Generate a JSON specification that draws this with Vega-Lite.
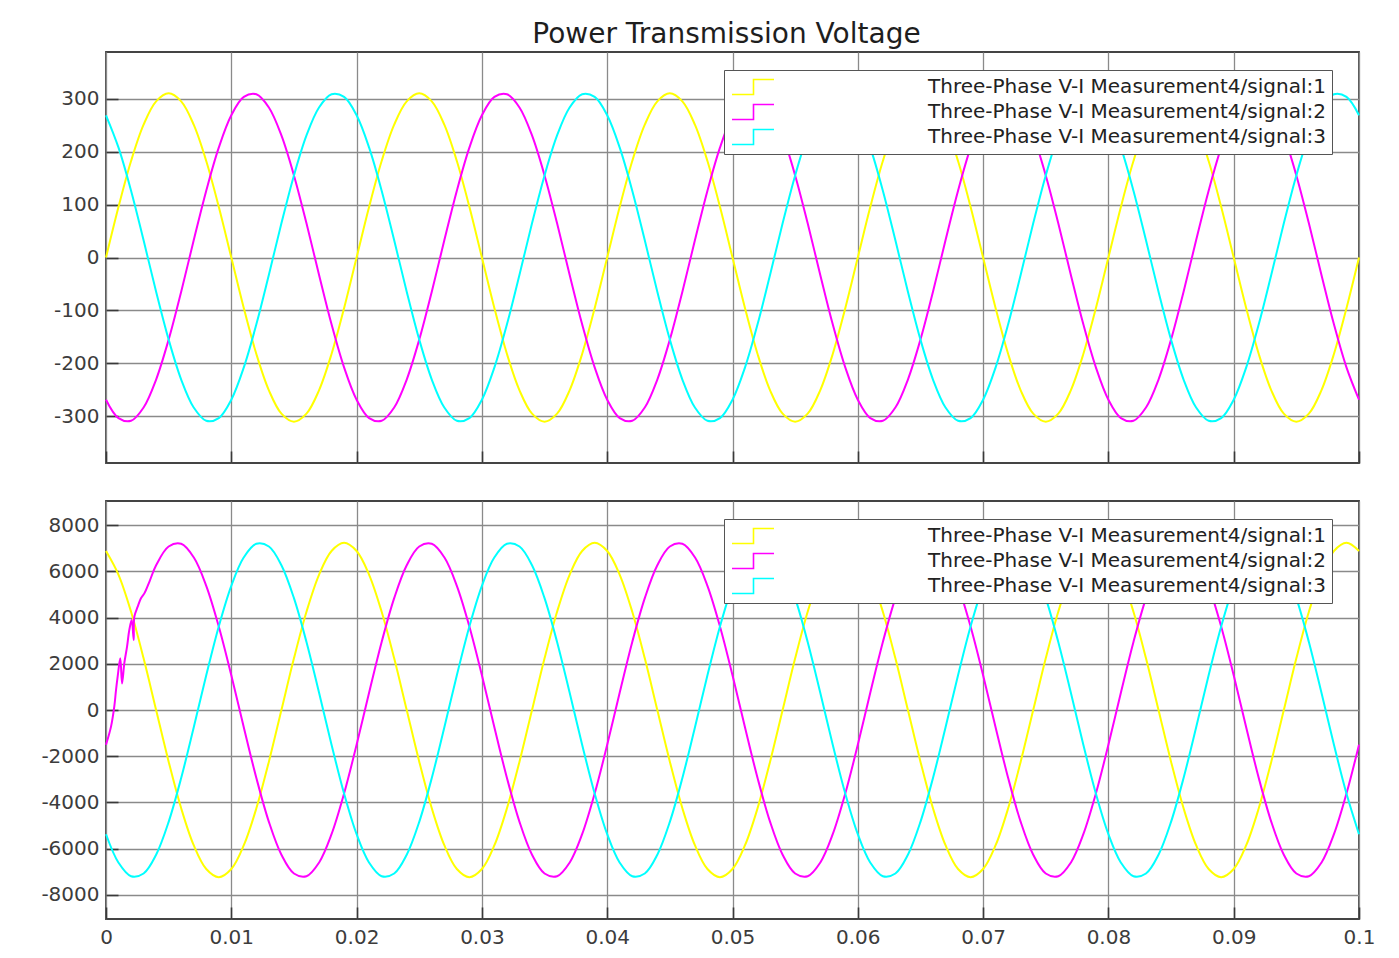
{
  "$schema": "https://vega.github.io/schema/vega-lite/v6.json",
  "background": "white",
  "padding": {"left": 35, "top": 21, "right": 5, "bottom": 0},
  "title": {"text": "Power Transmission Voltage", "anchor": "middle", "font": "DejaVu Sans", "fontSize": 28, "fontWeight": "normal", "color": "#1e1e1e", "offset": 2, "dx": 21},
  "spacing": 35,
  "resolve": {"legend": {"color": "independent"}, "scale": {"color": "independent"}},
  "config": {
    "view": {"stroke": "#444444", "strokeWidth": 1.8},
    "axis": {"domain": false, "grid": true, "gridColor": "#8a8a8a", "gridWidth": 1.3, "ticks": true, "tickSize": -12, "tickColor": "#3a3a3a", "tickWidth": 1.6, "labelFont": "DejaVu Sans", "labelFontSize": 20, "labelColor": "#3c3c3c", "labelFlush": false},
    "axisY": {"labelPadding": 19, "minExtent": 70, "maxExtent": 70},
    "axisX": {"labelPadding": 20},
    "legend": {"orient": "none", "legendX": 618, "legendY": 18, "direction": "vertical", "padding": 6, "strokeColor": "#555555", "fillColor": "white", "labelFont": "DejaVu Sans", "labelFontSize": 20, "labelColor": "#222222", "labelLimit": 800, "labelOffset": 176, "symbolType": "M-0.9,0.75H1.25V-0.75H3.3", "symbolSize": 400, "symbolStrokeWidth": 1.6, "symbolFillColor": "transparent", "rowPadding": 3}
  },
  "datasets": {
    "top": [
{"t":0,"s":1,"v":0},{"t":0,"s":2,"v":-268.5},{"t":0,"s":3,"v":268.5},
{"t":0.001,"s":1,"v":95.8},{"t":0.001,"s":2,"v":-303.2},{"t":0.001,"s":3,"v":207.4},
{"t":0.002,"s":1,"v":182.2},{"t":0.002,"s":2,"v":-308.3},{"t":0.002,"s":3,"v":126.1},
{"t":0.003,"s":1,"v":250.8},{"t":0.003,"s":2,"v":-283.2},{"t":0.003,"s":3,"v":32.4},
{"t":0.004,"s":1,"v":294.8},{"t":0.004,"s":2,"v":-230.4},{"t":0.004,"s":3,"v":-64.5},
{"t":0.005,"s":1,"v":310},{"t":0.005,"s":2,"v":-155},{"t":0.005,"s":3,"v":-155},
{"t":0.006,"s":1,"v":294.8},{"t":0.006,"s":2,"v":-64.5},{"t":0.006,"s":3,"v":-230.4},
{"t":0.007,"s":1,"v":250.8},{"t":0.007,"s":2,"v":32.4},{"t":0.007,"s":3,"v":-283.2},
{"t":0.008,"s":1,"v":182.2},{"t":0.008,"s":2,"v":126.1},{"t":0.008,"s":3,"v":-308.3},
{"t":0.009,"s":1,"v":95.8},{"t":0.009,"s":2,"v":207.4},{"t":0.009,"s":3,"v":-303.2},
{"t":0.01,"s":1,"v":0},{"t":0.01,"s":2,"v":268.5},{"t":0.01,"s":3,"v":-268.5},
{"t":0.011,"s":1,"v":-95.8},{"t":0.011,"s":2,"v":303.2},{"t":0.011,"s":3,"v":-207.4},
{"t":0.012,"s":1,"v":-182.2},{"t":0.012,"s":2,"v":308.3},{"t":0.012,"s":3,"v":-126.1},
{"t":0.013,"s":1,"v":-250.8},{"t":0.013,"s":2,"v":283.2},{"t":0.013,"s":3,"v":-32.4},
{"t":0.014,"s":1,"v":-294.8},{"t":0.014,"s":2,"v":230.4},{"t":0.014,"s":3,"v":64.5},
{"t":0.015,"s":1,"v":-310},{"t":0.015,"s":2,"v":155},{"t":0.015,"s":3,"v":155},
{"t":0.016,"s":1,"v":-294.8},{"t":0.016,"s":2,"v":64.5},{"t":0.016,"s":3,"v":230.4},
{"t":0.017,"s":1,"v":-250.8},{"t":0.017,"s":2,"v":-32.4},{"t":0.017,"s":3,"v":283.2},
{"t":0.018,"s":1,"v":-182.2},{"t":0.018,"s":2,"v":-126.1},{"t":0.018,"s":3,"v":308.3},
{"t":0.019,"s":1,"v":-95.8},{"t":0.019,"s":2,"v":-207.4},{"t":0.019,"s":3,"v":303.2},
{"t":0.02,"s":1,"v":0},{"t":0.02,"s":2,"v":-268.5},{"t":0.02,"s":3,"v":268.5},
{"t":0.021,"s":1,"v":95.8},{"t":0.021,"s":2,"v":-303.2},{"t":0.021,"s":3,"v":207.4},
{"t":0.022,"s":1,"v":182.2},{"t":0.022,"s":2,"v":-308.3},{"t":0.022,"s":3,"v":126.1},
{"t":0.023,"s":1,"v":250.8},{"t":0.023,"s":2,"v":-283.2},{"t":0.023,"s":3,"v":32.4},
{"t":0.024,"s":1,"v":294.8},{"t":0.024,"s":2,"v":-230.4},{"t":0.024,"s":3,"v":-64.5},
{"t":0.025,"s":1,"v":310},{"t":0.025,"s":2,"v":-155},{"t":0.025,"s":3,"v":-155},
{"t":0.026,"s":1,"v":294.8},{"t":0.026,"s":2,"v":-64.5},{"t":0.026,"s":3,"v":-230.4},
{"t":0.027,"s":1,"v":250.8},{"t":0.027,"s":2,"v":32.4},{"t":0.027,"s":3,"v":-283.2},
{"t":0.028,"s":1,"v":182.2},{"t":0.028,"s":2,"v":126.1},{"t":0.028,"s":3,"v":-308.3},
{"t":0.029,"s":1,"v":95.8},{"t":0.029,"s":2,"v":207.4},{"t":0.029,"s":3,"v":-303.2},
{"t":0.03,"s":1,"v":0},{"t":0.03,"s":2,"v":268.5},{"t":0.03,"s":3,"v":-268.5},
{"t":0.031,"s":1,"v":-95.8},{"t":0.031,"s":2,"v":303.2},{"t":0.031,"s":3,"v":-207.4},
{"t":0.032,"s":1,"v":-182.2},{"t":0.032,"s":2,"v":308.3},{"t":0.032,"s":3,"v":-126.1},
{"t":0.033,"s":1,"v":-250.8},{"t":0.033,"s":2,"v":283.2},{"t":0.033,"s":3,"v":-32.4},
{"t":0.034,"s":1,"v":-294.8},{"t":0.034,"s":2,"v":230.4},{"t":0.034,"s":3,"v":64.5},
{"t":0.035,"s":1,"v":-310},{"t":0.035,"s":2,"v":155},{"t":0.035,"s":3,"v":155},
{"t":0.036,"s":1,"v":-294.8},{"t":0.036,"s":2,"v":64.5},{"t":0.036,"s":3,"v":230.4},
{"t":0.037,"s":1,"v":-250.8},{"t":0.037,"s":2,"v":-32.4},{"t":0.037,"s":3,"v":283.2},
{"t":0.038,"s":1,"v":-182.2},{"t":0.038,"s":2,"v":-126.1},{"t":0.038,"s":3,"v":308.3},
{"t":0.039,"s":1,"v":-95.8},{"t":0.039,"s":2,"v":-207.4},{"t":0.039,"s":3,"v":303.2},
{"t":0.04,"s":1,"v":0},{"t":0.04,"s":2,"v":-268.5},{"t":0.04,"s":3,"v":268.5},
{"t":0.041,"s":1,"v":95.8},{"t":0.041,"s":2,"v":-303.2},{"t":0.041,"s":3,"v":207.4},
{"t":0.042,"s":1,"v":182.2},{"t":0.042,"s":2,"v":-308.3},{"t":0.042,"s":3,"v":126.1},
{"t":0.043,"s":1,"v":250.8},{"t":0.043,"s":2,"v":-283.2},{"t":0.043,"s":3,"v":32.4},
{"t":0.044,"s":1,"v":294.8},{"t":0.044,"s":2,"v":-230.4},{"t":0.044,"s":3,"v":-64.5},
{"t":0.045,"s":1,"v":310},{"t":0.045,"s":2,"v":-155},{"t":0.045,"s":3,"v":-155},
{"t":0.046,"s":1,"v":294.8},{"t":0.046,"s":2,"v":-64.5},{"t":0.046,"s":3,"v":-230.4},
{"t":0.047,"s":1,"v":250.8},{"t":0.047,"s":2,"v":32.4},{"t":0.047,"s":3,"v":-283.2},
{"t":0.048,"s":1,"v":182.2},{"t":0.048,"s":2,"v":126.1},{"t":0.048,"s":3,"v":-308.3},
{"t":0.049,"s":1,"v":95.8},{"t":0.049,"s":2,"v":207.4},{"t":0.049,"s":3,"v":-303.2},
{"t":0.05,"s":1,"v":0},{"t":0.05,"s":2,"v":268.5},{"t":0.05,"s":3,"v":-268.5},
{"t":0.051,"s":1,"v":-95.8},{"t":0.051,"s":2,"v":303.2},{"t":0.051,"s":3,"v":-207.4},
{"t":0.052,"s":1,"v":-182.2},{"t":0.052,"s":2,"v":308.3},{"t":0.052,"s":3,"v":-126.1},
{"t":0.053,"s":1,"v":-250.8},{"t":0.053,"s":2,"v":283.2},{"t":0.053,"s":3,"v":-32.4},
{"t":0.054,"s":1,"v":-294.8},{"t":0.054,"s":2,"v":230.4},{"t":0.054,"s":3,"v":64.5},
{"t":0.055,"s":1,"v":-310},{"t":0.055,"s":2,"v":155},{"t":0.055,"s":3,"v":155},
{"t":0.056,"s":1,"v":-294.8},{"t":0.056,"s":2,"v":64.5},{"t":0.056,"s":3,"v":230.4},
{"t":0.057,"s":1,"v":-250.8},{"t":0.057,"s":2,"v":-32.4},{"t":0.057,"s":3,"v":283.2},
{"t":0.058,"s":1,"v":-182.2},{"t":0.058,"s":2,"v":-126.1},{"t":0.058,"s":3,"v":308.3},
{"t":0.059,"s":1,"v":-95.8},{"t":0.059,"s":2,"v":-207.4},{"t":0.059,"s":3,"v":303.2},
{"t":0.06,"s":1,"v":0},{"t":0.06,"s":2,"v":-268.5},{"t":0.06,"s":3,"v":268.5},
{"t":0.061,"s":1,"v":95.8},{"t":0.061,"s":2,"v":-303.2},{"t":0.061,"s":3,"v":207.4},
{"t":0.062,"s":1,"v":182.2},{"t":0.062,"s":2,"v":-308.3},{"t":0.062,"s":3,"v":126.1},
{"t":0.063,"s":1,"v":250.8},{"t":0.063,"s":2,"v":-283.2},{"t":0.063,"s":3,"v":32.4},
{"t":0.064,"s":1,"v":294.8},{"t":0.064,"s":2,"v":-230.4},{"t":0.064,"s":3,"v":-64.5},
{"t":0.065,"s":1,"v":310},{"t":0.065,"s":2,"v":-155},{"t":0.065,"s":3,"v":-155},
{"t":0.066,"s":1,"v":294.8},{"t":0.066,"s":2,"v":-64.5},{"t":0.066,"s":3,"v":-230.4},
{"t":0.067,"s":1,"v":250.8},{"t":0.067,"s":2,"v":32.4},{"t":0.067,"s":3,"v":-283.2},
{"t":0.068,"s":1,"v":182.2},{"t":0.068,"s":2,"v":126.1},{"t":0.068,"s":3,"v":-308.3},
{"t":0.069,"s":1,"v":95.8},{"t":0.069,"s":2,"v":207.4},{"t":0.069,"s":3,"v":-303.2},
{"t":0.07,"s":1,"v":0},{"t":0.07,"s":2,"v":268.5},{"t":0.07,"s":3,"v":-268.5},
{"t":0.071,"s":1,"v":-95.8},{"t":0.071,"s":2,"v":303.2},{"t":0.071,"s":3,"v":-207.4},
{"t":0.072,"s":1,"v":-182.2},{"t":0.072,"s":2,"v":308.3},{"t":0.072,"s":3,"v":-126.1},
{"t":0.073,"s":1,"v":-250.8},{"t":0.073,"s":2,"v":283.2},{"t":0.073,"s":3,"v":-32.4},
{"t":0.074,"s":1,"v":-294.8},{"t":0.074,"s":2,"v":230.4},{"t":0.074,"s":3,"v":64.5},
{"t":0.075,"s":1,"v":-310},{"t":0.075,"s":2,"v":155},{"t":0.075,"s":3,"v":155},
{"t":0.076,"s":1,"v":-294.8},{"t":0.076,"s":2,"v":64.5},{"t":0.076,"s":3,"v":230.4},
{"t":0.077,"s":1,"v":-250.8},{"t":0.077,"s":2,"v":-32.4},{"t":0.077,"s":3,"v":283.2},
{"t":0.078,"s":1,"v":-182.2},{"t":0.078,"s":2,"v":-126.1},{"t":0.078,"s":3,"v":308.3},
{"t":0.079,"s":1,"v":-95.8},{"t":0.079,"s":2,"v":-207.4},{"t":0.079,"s":3,"v":303.2},
{"t":0.08,"s":1,"v":0},{"t":0.08,"s":2,"v":-268.5},{"t":0.08,"s":3,"v":268.5},
{"t":0.081,"s":1,"v":95.8},{"t":0.081,"s":2,"v":-303.2},{"t":0.081,"s":3,"v":207.4},
{"t":0.082,"s":1,"v":182.2},{"t":0.082,"s":2,"v":-308.3},{"t":0.082,"s":3,"v":126.1},
{"t":0.083,"s":1,"v":250.8},{"t":0.083,"s":2,"v":-283.2},{"t":0.083,"s":3,"v":32.4},
{"t":0.084,"s":1,"v":294.8},{"t":0.084,"s":2,"v":-230.4},{"t":0.084,"s":3,"v":-64.5},
{"t":0.085,"s":1,"v":310},{"t":0.085,"s":2,"v":-155},{"t":0.085,"s":3,"v":-155},
{"t":0.086,"s":1,"v":294.8},{"t":0.086,"s":2,"v":-64.5},{"t":0.086,"s":3,"v":-230.4},
{"t":0.087,"s":1,"v":250.8},{"t":0.087,"s":2,"v":32.4},{"t":0.087,"s":3,"v":-283.2},
{"t":0.088,"s":1,"v":182.2},{"t":0.088,"s":2,"v":126.1},{"t":0.088,"s":3,"v":-308.3},
{"t":0.089,"s":1,"v":95.8},{"t":0.089,"s":2,"v":207.4},{"t":0.089,"s":3,"v":-303.2},
{"t":0.09,"s":1,"v":0},{"t":0.09,"s":2,"v":268.5},{"t":0.09,"s":3,"v":-268.5},
{"t":0.091,"s":1,"v":-95.8},{"t":0.091,"s":2,"v":303.2},{"t":0.091,"s":3,"v":-207.4},
{"t":0.092,"s":1,"v":-182.2},{"t":0.092,"s":2,"v":308.3},{"t":0.092,"s":3,"v":-126.1},
{"t":0.093,"s":1,"v":-250.8},{"t":0.093,"s":2,"v":283.2},{"t":0.093,"s":3,"v":-32.4},
{"t":0.094,"s":1,"v":-294.8},{"t":0.094,"s":2,"v":230.4},{"t":0.094,"s":3,"v":64.5},
{"t":0.095,"s":1,"v":-310},{"t":0.095,"s":2,"v":155},{"t":0.095,"s":3,"v":155},
{"t":0.096,"s":1,"v":-294.8},{"t":0.096,"s":2,"v":64.5},{"t":0.096,"s":3,"v":230.4},
{"t":0.097,"s":1,"v":-250.8},{"t":0.097,"s":2,"v":-32.4},{"t":0.097,"s":3,"v":283.2},
{"t":0.098,"s":1,"v":-182.2},{"t":0.098,"s":2,"v":-126.1},{"t":0.098,"s":3,"v":308.3},
{"t":0.099,"s":1,"v":-95.8},{"t":0.099,"s":2,"v":-207.4},{"t":0.099,"s":3,"v":303.2},
{"t":0.1,"s":1,"v":0},{"t":0.1,"s":2,"v":-268.5},{"t":0.1,"s":3,"v":268.5}
    ],
    "bot": [
{"t":0,"s":1,"v":6876},{"t":0,"s":2,"v":-1503},{"t":0,"s":3,"v":-5373},
{"t":0.0004,"s":2,"v":-720},{"t":0.00066,"s":2,"v":143},{"t":0.0008,"s":2,"v":865},{"t":0.00093,"s":2,"v":1440},{"t":0.00114,"s":2,"v":2235},{"t":0.00128,"s":2,"v":1150},{"t":0.00146,"s":2,"v":2020},{"t":0.00168,"s":2,"v":2740},{"t":0.00186,"s":2,"v":3460},{"t":0.00205,"s":2,"v":3890},{"t":0.00221,"s":2,"v":3030},{"t":0.00226,"s":2,"v":4035},{"t":0.00253,"s":2,"v":4470},{"t":0.00279,"s":2,"v":4830},{"t":0.00306,"s":2,"v":5045},{"t":0.0035,"s":2,"v":5600},
{"t":0.001,"s":1,"v":5849},{"t":0.001,"s":3,"v":-6605},
{"t":0.002,"s":1,"v":4250},{"t":0.002,"s":3,"v":-7190},
{"t":0.003,"s":1,"v":2234},{"t":0.003,"s":3,"v":-7072},
{"t":0.004,"s":1,"v":0},{"t":0.004,"s":2,"v":6261},{"t":0.004,"s":3,"v":-6261},
{"t":0.005,"s":1,"v":-2234},{"t":0.005,"s":2,"v":7072},{"t":0.005,"s":3,"v":-4838},
{"t":0.006,"s":1,"v":-4250},{"t":0.006,"s":2,"v":7190},{"t":0.006,"s":3,"v":-2941},
{"t":0.007,"s":1,"v":-5849},{"t":0.007,"s":2,"v":6605},{"t":0.007,"s":3,"v":-756},
{"t":0.008,"s":1,"v":-6876},{"t":0.008,"s":2,"v":5373},{"t":0.008,"s":3,"v":1503},
{"t":0.009,"s":1,"v":-7230},{"t":0.009,"s":2,"v":3615},{"t":0.009,"s":3,"v":3615},
{"t":0.01,"s":1,"v":-6876},{"t":0.01,"s":2,"v":1503},{"t":0.01,"s":3,"v":5373},
{"t":0.011,"s":1,"v":-5849},{"t":0.011,"s":2,"v":-756},{"t":0.011,"s":3,"v":6605},
{"t":0.012,"s":1,"v":-4250},{"t":0.012,"s":2,"v":-2941},{"t":0.012,"s":3,"v":7190},
{"t":0.013,"s":1,"v":-2234},{"t":0.013,"s":2,"v":-4838},{"t":0.013,"s":3,"v":7072},
{"t":0.014,"s":1,"v":0},{"t":0.014,"s":2,"v":-6261},{"t":0.014,"s":3,"v":6261},
{"t":0.015,"s":1,"v":2234},{"t":0.015,"s":2,"v":-7072},{"t":0.015,"s":3,"v":4838},
{"t":0.016,"s":1,"v":4250},{"t":0.016,"s":2,"v":-7190},{"t":0.016,"s":3,"v":2941},
{"t":0.017,"s":1,"v":5849},{"t":0.017,"s":2,"v":-6605},{"t":0.017,"s":3,"v":756},
{"t":0.018,"s":1,"v":6876},{"t":0.018,"s":2,"v":-5373},{"t":0.018,"s":3,"v":-1503},
{"t":0.019,"s":1,"v":7230},{"t":0.019,"s":2,"v":-3615},{"t":0.019,"s":3,"v":-3615},
{"t":0.02,"s":1,"v":6876},{"t":0.02,"s":2,"v":-1503},{"t":0.02,"s":3,"v":-5373},
{"t":0.021,"s":1,"v":5849},{"t":0.021,"s":2,"v":756},{"t":0.021,"s":3,"v":-6605},
{"t":0.022,"s":1,"v":4250},{"t":0.022,"s":2,"v":2941},{"t":0.022,"s":3,"v":-7190},
{"t":0.023,"s":1,"v":2234},{"t":0.023,"s":2,"v":4838},{"t":0.023,"s":3,"v":-7072},
{"t":0.024,"s":1,"v":0},{"t":0.024,"s":2,"v":6261},{"t":0.024,"s":3,"v":-6261},
{"t":0.025,"s":1,"v":-2234},{"t":0.025,"s":2,"v":7072},{"t":0.025,"s":3,"v":-4838},
{"t":0.026,"s":1,"v":-4250},{"t":0.026,"s":2,"v":7190},{"t":0.026,"s":3,"v":-2941},
{"t":0.027,"s":1,"v":-5849},{"t":0.027,"s":2,"v":6605},{"t":0.027,"s":3,"v":-756},
{"t":0.028,"s":1,"v":-6876},{"t":0.028,"s":2,"v":5373},{"t":0.028,"s":3,"v":1503},
{"t":0.029,"s":1,"v":-7230},{"t":0.029,"s":2,"v":3615},{"t":0.029,"s":3,"v":3615},
{"t":0.03,"s":1,"v":-6876},{"t":0.03,"s":2,"v":1503},{"t":0.03,"s":3,"v":5373},
{"t":0.031,"s":1,"v":-5849},{"t":0.031,"s":2,"v":-756},{"t":0.031,"s":3,"v":6605},
{"t":0.032,"s":1,"v":-4250},{"t":0.032,"s":2,"v":-2941},{"t":0.032,"s":3,"v":7190},
{"t":0.033,"s":1,"v":-2234},{"t":0.033,"s":2,"v":-4838},{"t":0.033,"s":3,"v":7072},
{"t":0.034,"s":1,"v":0},{"t":0.034,"s":2,"v":-6261},{"t":0.034,"s":3,"v":6261},
{"t":0.035,"s":1,"v":2234},{"t":0.035,"s":2,"v":-7072},{"t":0.035,"s":3,"v":4838},
{"t":0.036,"s":1,"v":4250},{"t":0.036,"s":2,"v":-7190},{"t":0.036,"s":3,"v":2941},
{"t":0.037,"s":1,"v":5849},{"t":0.037,"s":2,"v":-6605},{"t":0.037,"s":3,"v":756},
{"t":0.038,"s":1,"v":6876},{"t":0.038,"s":2,"v":-5373},{"t":0.038,"s":3,"v":-1503},
{"t":0.039,"s":1,"v":7230},{"t":0.039,"s":2,"v":-3615},{"t":0.039,"s":3,"v":-3615},
{"t":0.04,"s":1,"v":6876},{"t":0.04,"s":2,"v":-1503},{"t":0.04,"s":3,"v":-5373},
{"t":0.041,"s":1,"v":5849},{"t":0.041,"s":2,"v":756},{"t":0.041,"s":3,"v":-6605},
{"t":0.042,"s":1,"v":4250},{"t":0.042,"s":2,"v":2941},{"t":0.042,"s":3,"v":-7190},
{"t":0.043,"s":1,"v":2234},{"t":0.043,"s":2,"v":4838},{"t":0.043,"s":3,"v":-7072},
{"t":0.044,"s":1,"v":0},{"t":0.044,"s":2,"v":6261},{"t":0.044,"s":3,"v":-6261},
{"t":0.045,"s":1,"v":-2234},{"t":0.045,"s":2,"v":7072},{"t":0.045,"s":3,"v":-4838},
{"t":0.046,"s":1,"v":-4250},{"t":0.046,"s":2,"v":7190},{"t":0.046,"s":3,"v":-2941},
{"t":0.047,"s":1,"v":-5849},{"t":0.047,"s":2,"v":6605},{"t":0.047,"s":3,"v":-756},
{"t":0.048,"s":1,"v":-6876},{"t":0.048,"s":2,"v":5373},{"t":0.048,"s":3,"v":1503},
{"t":0.049,"s":1,"v":-7230},{"t":0.049,"s":2,"v":3615},{"t":0.049,"s":3,"v":3615},
{"t":0.05,"s":1,"v":-6876},{"t":0.05,"s":2,"v":1503},{"t":0.05,"s":3,"v":5373},
{"t":0.051,"s":1,"v":-5849},{"t":0.051,"s":2,"v":-756},{"t":0.051,"s":3,"v":6605},
{"t":0.052,"s":1,"v":-4250},{"t":0.052,"s":2,"v":-2941},{"t":0.052,"s":3,"v":7190},
{"t":0.053,"s":1,"v":-2234},{"t":0.053,"s":2,"v":-4838},{"t":0.053,"s":3,"v":7072},
{"t":0.054,"s":1,"v":0},{"t":0.054,"s":2,"v":-6261},{"t":0.054,"s":3,"v":6261},
{"t":0.055,"s":1,"v":2234},{"t":0.055,"s":2,"v":-7072},{"t":0.055,"s":3,"v":4838},
{"t":0.056,"s":1,"v":4250},{"t":0.056,"s":2,"v":-7190},{"t":0.056,"s":3,"v":2941},
{"t":0.057,"s":1,"v":5849},{"t":0.057,"s":2,"v":-6605},{"t":0.057,"s":3,"v":756},
{"t":0.058,"s":1,"v":6876},{"t":0.058,"s":2,"v":-5373},{"t":0.058,"s":3,"v":-1503},
{"t":0.059,"s":1,"v":7230},{"t":0.059,"s":2,"v":-3615},{"t":0.059,"s":3,"v":-3615},
{"t":0.06,"s":1,"v":6876},{"t":0.06,"s":2,"v":-1503},{"t":0.06,"s":3,"v":-5373},
{"t":0.061,"s":1,"v":5849},{"t":0.061,"s":2,"v":756},{"t":0.061,"s":3,"v":-6605},
{"t":0.062,"s":1,"v":4250},{"t":0.062,"s":2,"v":2941},{"t":0.062,"s":3,"v":-7190},
{"t":0.063,"s":1,"v":2234},{"t":0.063,"s":2,"v":4838},{"t":0.063,"s":3,"v":-7072},
{"t":0.064,"s":1,"v":0},{"t":0.064,"s":2,"v":6261},{"t":0.064,"s":3,"v":-6261},
{"t":0.065,"s":1,"v":-2234},{"t":0.065,"s":2,"v":7072},{"t":0.065,"s":3,"v":-4838},
{"t":0.066,"s":1,"v":-4250},{"t":0.066,"s":2,"v":7190},{"t":0.066,"s":3,"v":-2941},
{"t":0.067,"s":1,"v":-5849},{"t":0.067,"s":2,"v":6605},{"t":0.067,"s":3,"v":-756},
{"t":0.068,"s":1,"v":-6876},{"t":0.068,"s":2,"v":5373},{"t":0.068,"s":3,"v":1503},
{"t":0.069,"s":1,"v":-7230},{"t":0.069,"s":2,"v":3615},{"t":0.069,"s":3,"v":3615},
{"t":0.07,"s":1,"v":-6876},{"t":0.07,"s":2,"v":1503},{"t":0.07,"s":3,"v":5373},
{"t":0.071,"s":1,"v":-5849},{"t":0.071,"s":2,"v":-756},{"t":0.071,"s":3,"v":6605},
{"t":0.072,"s":1,"v":-4250},{"t":0.072,"s":2,"v":-2941},{"t":0.072,"s":3,"v":7190},
{"t":0.073,"s":1,"v":-2234},{"t":0.073,"s":2,"v":-4838},{"t":0.073,"s":3,"v":7072},
{"t":0.074,"s":1,"v":0},{"t":0.074,"s":2,"v":-6261},{"t":0.074,"s":3,"v":6261},
{"t":0.075,"s":1,"v":2234},{"t":0.075,"s":2,"v":-7072},{"t":0.075,"s":3,"v":4838},
{"t":0.076,"s":1,"v":4250},{"t":0.076,"s":2,"v":-7190},{"t":0.076,"s":3,"v":2941},
{"t":0.077,"s":1,"v":5849},{"t":0.077,"s":2,"v":-6605},{"t":0.077,"s":3,"v":756},
{"t":0.078,"s":1,"v":6876},{"t":0.078,"s":2,"v":-5373},{"t":0.078,"s":3,"v":-1503},
{"t":0.079,"s":1,"v":7230},{"t":0.079,"s":2,"v":-3615},{"t":0.079,"s":3,"v":-3615},
{"t":0.08,"s":1,"v":6876},{"t":0.08,"s":2,"v":-1503},{"t":0.08,"s":3,"v":-5373},
{"t":0.081,"s":1,"v":5849},{"t":0.081,"s":2,"v":756},{"t":0.081,"s":3,"v":-6605},
{"t":0.082,"s":1,"v":4250},{"t":0.082,"s":2,"v":2941},{"t":0.082,"s":3,"v":-7190},
{"t":0.083,"s":1,"v":2234},{"t":0.083,"s":2,"v":4838},{"t":0.083,"s":3,"v":-7072},
{"t":0.084,"s":1,"v":0},{"t":0.084,"s":2,"v":6261},{"t":0.084,"s":3,"v":-6261},
{"t":0.085,"s":1,"v":-2234},{"t":0.085,"s":2,"v":7072},{"t":0.085,"s":3,"v":-4838},
{"t":0.086,"s":1,"v":-4250},{"t":0.086,"s":2,"v":7190},{"t":0.086,"s":3,"v":-2941},
{"t":0.087,"s":1,"v":-5849},{"t":0.087,"s":2,"v":6605},{"t":0.087,"s":3,"v":-756},
{"t":0.088,"s":1,"v":-6876},{"t":0.088,"s":2,"v":5373},{"t":0.088,"s":3,"v":1503},
{"t":0.089,"s":1,"v":-7230},{"t":0.089,"s":2,"v":3615},{"t":0.089,"s":3,"v":3615},
{"t":0.09,"s":1,"v":-6876},{"t":0.09,"s":2,"v":1503},{"t":0.09,"s":3,"v":5373},
{"t":0.091,"s":1,"v":-5849},{"t":0.091,"s":2,"v":-756},{"t":0.091,"s":3,"v":6605},
{"t":0.092,"s":1,"v":-4250},{"t":0.092,"s":2,"v":-2941},{"t":0.092,"s":3,"v":7190},
{"t":0.093,"s":1,"v":-2234},{"t":0.093,"s":2,"v":-4838},{"t":0.093,"s":3,"v":7072},
{"t":0.094,"s":1,"v":0},{"t":0.094,"s":2,"v":-6261},{"t":0.094,"s":3,"v":6261},
{"t":0.095,"s":1,"v":2234},{"t":0.095,"s":2,"v":-7072},{"t":0.095,"s":3,"v":4838},
{"t":0.096,"s":1,"v":4250},{"t":0.096,"s":2,"v":-7190},{"t":0.096,"s":3,"v":2941},
{"t":0.097,"s":1,"v":5849},{"t":0.097,"s":2,"v":-6605},{"t":0.097,"s":3,"v":756},
{"t":0.098,"s":1,"v":6876},{"t":0.098,"s":2,"v":-5373},{"t":0.098,"s":3,"v":-1503},
{"t":0.099,"s":1,"v":7230},{"t":0.099,"s":2,"v":-3615},{"t":0.099,"s":3,"v":-3615},
{"t":0.1,"s":1,"v":6876},{"t":0.1,"s":2,"v":-1503},{"t":0.1,"s":3,"v":-5373}
    ]
  },
  "vconcat": [
    {
      "width": 1253,
      "height": 411,
      "data": {"name": "top"},
      "mark": {"type": "line", "strokeWidth": 2, "interpolate": "catmull-rom"},
      "encoding": {
        "x": {"field": "t", "type": "quantitative", "scale": {"domain": [0, 0.1], "nice": false, "zero": false},
              "axis": {"title": null, "labels": false, "values": [0, 0.01, 0.02, 0.03, 0.04, 0.05, 0.06, 0.07, 0.08, 0.09, 0.1]}},
        "y": {"field": "v", "type": "quantitative", "scale": {"domain": [-388, 388], "nice": false},
              "axis": {"title": null, "values": [-300, -200, -100, 0, 100, 200, 300], "labelExpr": "(datum.value < 0 ? '-' : '') + format(abs(datum.value), 'd')"}},
        "color": {"field": "s", "type": "nominal", "scale": {"domain": [1, 2, 3], "range": ["#ffff00", "#ff00ff", "#00ffff"]},
                  "legend": {"title": null, "labelExpr": "'Three-Phase V-I Measurement4/signal:' + datum.label"}}
      }
    },
    {
      "width": 1253,
      "height": 418,
      "data": {"name": "bot"},
      "mark": {"type": "line", "strokeWidth": 2, "interpolate": "catmull-rom"},
      "encoding": {
        "x": {"field": "t", "type": "quantitative", "scale": {"domain": [0, 0.1], "nice": false, "zero": false},
              "axis": {"title": null, "format": ".2~f", "values": [0, 0.01, 0.02, 0.03, 0.04, 0.05, 0.06, 0.07, 0.08, 0.09, 0.1]}},
        "y": {"field": "v", "type": "quantitative", "scale": {"domain": [-9040, 9040], "nice": false},
              "axis": {"title": null, "values": [-8000, -6000, -4000, -2000, 0, 2000, 4000, 6000, 8000], "labelExpr": "(datum.value < 0 ? '-' : '') + format(abs(datum.value), 'd')"}},
        "color": {"field": "s", "type": "nominal", "scale": {"domain": [1, 2, 3], "range": ["#ffff00", "#ff00ff", "#00ffff"]},
                  "legend": {"title": null, "labelExpr": "'Three-Phase V-I Measurement4/signal:' + datum.label"}}
      }
    }
  ]
}
